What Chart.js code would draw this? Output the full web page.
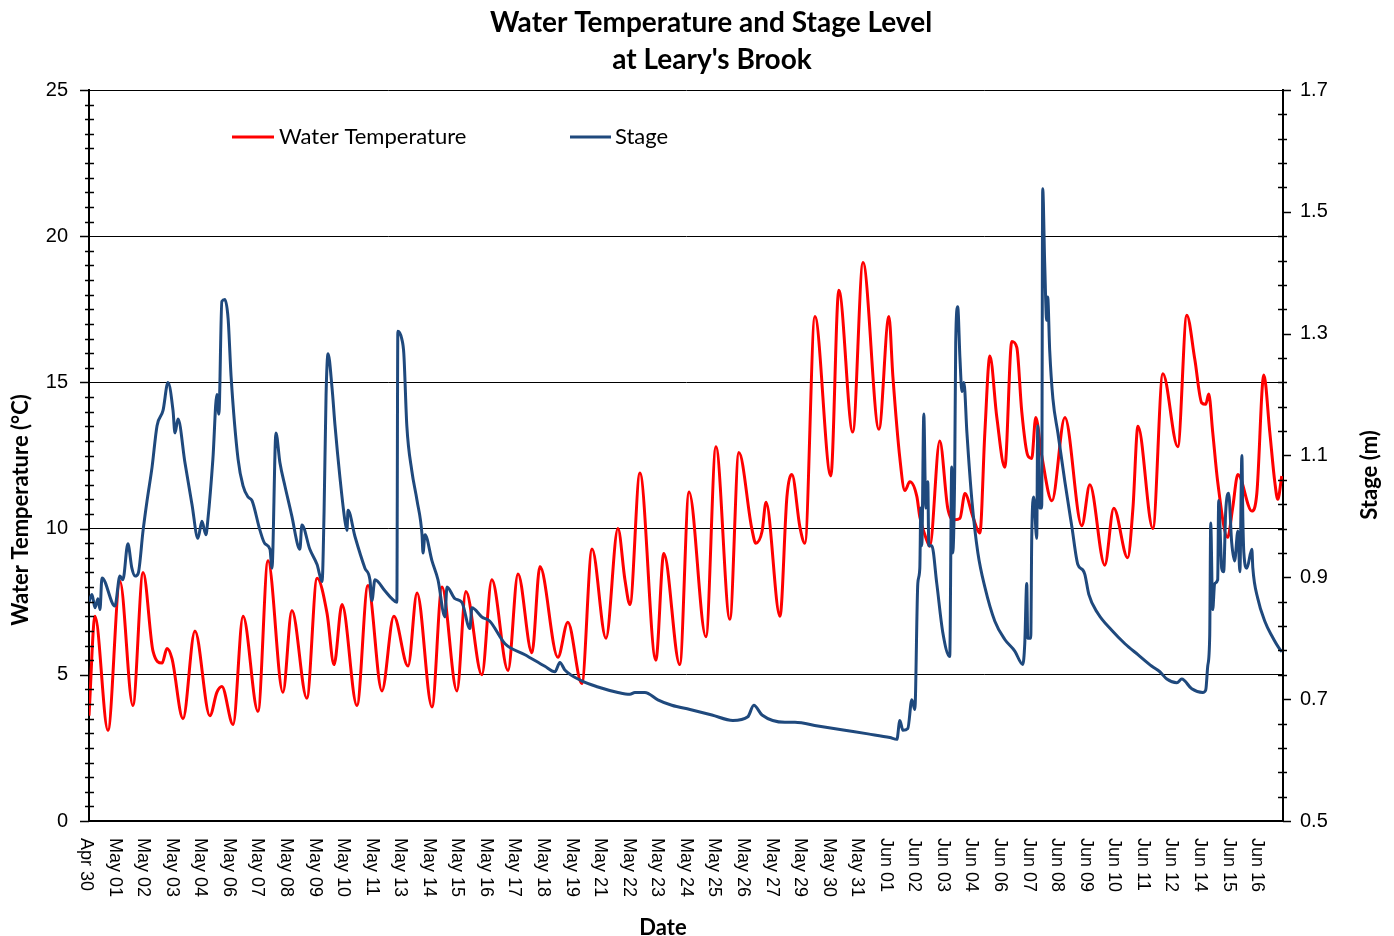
<!DOCTYPE html>
<html><head><meta charset="utf-8">
<script src="https://cdn.jsdelivr.net/npm/chart.js@4"></script>
<style>html,body{margin:0;padding:0;background:#fff;}canvas{display:block;}</style>
</head><body>
<canvas id="c" width="1394" height="936"></canvas>
<script>
// ---------------- data ----------------
const chartTitle = ["Water Temperature and Stage Level", "at Leary's Brook"];
const seriesNames = ["Water Temperature", "Stage"];
const axisTitles = { x: "Date", y: "Water Temperature (\u00B0C)", y2: "Stage (m)" };
const tickLabels = ["Apr 30","May 01","May 02","May 03","May 04","May 06","May 07","May 08","May 09","May 10","May 11","May 13","May 14","May 15","May 16","May 17","May 18","May 19","May 21","May 22","May 23","May 24","May 25","May 26","May 27","May 29","May 30","May 31","Jun 01","Jun 02","Jun 03","Jun 04","Jun 06","Jun 07","Jun 08","Jun 09","Jun 10","Jun 11","Jun 12","Jun 14","Jun 15","Jun 16"];
const labelStepDays = 110 / 96;   // one label every 110 readings of 15 min
const periodDays = 47.9;          // length of the record shown (days from first reading)

// time = days since first reading (Apr 30, ~09:45)
const tempTime = [0.00,0.24,0.76,1.24,1.76,2.17,2.57,2.93,3.13,3.33,3.77,4.25,4.85,5.13,5.33,5.78,6.18,6.78,7.18,7.78,8.14,8.74,9.15,9.55,9.83,10.15,10.75,11.19,11.75,12.23,12.80,13.16,13.76,14.16,14.76,15.12,15.76,16.16,16.81,17.21,17.77,18.09,18.81,19.21,19.77,20.18,20.74,21.22,21.50,21.70,22.10,22.74,23.06,23.70,24.07,24.75,25.15,25.71,26.07,26.59,26.75,27.00,27.16,27.72,28.00,28.20,28.52,28.72,29.12,29.76,30.08,30.64,31.05,31.69,32.09,32.25,32.53,32.73,32.93,33.21,33.33,33.61,33.73,34.13,34.45,34.73,34.94,35.14,35.46,35.74,35.94,36.14,36.42,36.74,37.02,37.22,37.42,37.66,37.82,37.98,38.22,38.63,39.15,39.83,40.15,40.75,41.11,41.67,41.88,42.08,42.68,43.08,43.68,44.04,44.36,44.64,44.80,44.92,45.08,45.28,45.68,45.88,46.09,46.65,46.85,47.13,47.37,47.57,47.69,47.85];
const tempValues = [3.6,7.0,3.1,8.2,3.95,8.5,5.8,5.4,5.9,5.55,3.5,6.5,3.6,4.4,4.6,3.3,7.0,3.75,8.9,4.4,7.2,4.2,8.3,7.1,5.35,7.4,3.95,8.05,4.45,7.0,5.3,7.8,3.9,8.0,4.45,7.85,5.0,8.25,5.15,8.45,5.75,8.7,5.6,6.8,4.7,9.3,6.25,10.0,8.25,7.4,11.9,5.5,9.15,5.35,11.25,6.3,12.8,6.9,12.6,10.0,9.5,9.9,10.9,7.0,11.1,11.85,10.05,9.5,17.25,11.8,18.15,13.3,19.1,13.4,17.25,15.2,12.4,11.3,11.6,11.1,10.4,9.6,9.4,13.0,10.7,10.3,10.35,11.2,10.4,9.85,13.3,15.9,13.8,12.1,16.4,16.2,14.0,12.5,12.4,13.8,12.5,10.95,13.8,10.1,11.5,8.75,10.7,9.0,10.7,13.5,10.0,15.3,12.8,17.3,15.8,14.3,14.25,14.6,13.3,11.6,9.7,10.7,11.85,10.6,11.2,15.25,13.3,11.6,11.0,11.8];

const stageTime = [0.00,0.12,0.24,0.36,0.44,0.52,1.04,1.24,1.36,1.56,1.72,1.85,1.97,2.17,2.33,2.53,2.73,2.97,3.17,3.37,3.45,3.57,3.85,4.13,4.37,4.53,4.69,4.77,4.97,5.13,5.21,5.33,5.45,5.58,5.70,5.98,6.18,6.38,6.54,6.86,7.06,7.26,7.34,7.50,7.66,7.86,8.14,8.38,8.46,8.54,8.86,9.15,9.35,9.43,9.51,9.59,9.75,9.87,10.07,10.27,10.35,10.39,10.67,11.07,11.27,11.35,11.47,11.87,12.15,12.35,12.39,12.55,12.63,12.75,12.95,13.16,13.36,13.40,13.48,13.76,14.00,14.28,14.36,14.68,14.96,15.28,15.36,15.76,16.08,16.69,17.49,18.29,18.69,18.89,19.09,19.77,20.42,21.22,21.70,21.90,22.30,22.82,23.38,24.11,24.99,25.83,26.43,26.67,27.00,27.92,28.32,29.24,30.32,31.25,32.13,32.41,32.53,32.65,32.85,33.01,33.13,33.25,33.33,33.37,33.41,33.49,33.57,33.65,33.69,33.81,34.01,34.25,34.53,34.61,34.65,34.73,34.77,34.85,34.94,35.02,35.10,35.22,35.42,35.66,35.94,36.34,36.74,37.14,37.46,37.54,37.62,37.66,37.78,37.82,37.90,38.02,38.06,38.14,38.22,38.26,38.34,38.42,38.46,38.54,38.67,38.87,39.15,39.43,39.67,39.87,39.95,40.11,40.47,41.03,41.56,42.08,42.64,42.96,43.24,43.64,43.84,44.24,44.68,44.80,44.88,44.96,45.00,45.08,45.16,45.28,45.32,45.40,45.44,45.52,45.60,45.72,45.84,45.96,46.09,46.17,46.25,46.29,46.33,46.45,46.65,46.69,46.89,47.17,47.45,47.77,47.86];
const stageValues = [0.86,0.872,0.85,0.865,0.847,0.899,0.853,0.902,0.896,0.955,0.915,0.902,0.906,0.977,1.026,1.081,1.149,1.174,1.22,1.174,1.137,1.16,1.088,1.02,0.964,0.992,0.97,0.995,1.094,1.2,1.168,1.353,1.356,1.325,1.23,1.094,1.05,1.032,1.026,0.977,0.955,0.946,0.915,1.137,1.088,1.05,1.0,0.952,0.946,0.986,0.946,0.921,0.893,1.007,1.199,1.267,1.211,1.149,1.063,0.992,0.977,1.01,0.967,0.915,0.896,0.862,0.896,0.878,0.865,0.859,1.304,1.291,1.267,1.149,1.075,1.026,0.97,0.94,0.97,0.927,0.896,0.835,0.884,0.865,0.859,0.816,0.85,0.835,0.828,0.791,0.773,0.754,0.745,0.76,0.748,0.73,0.72,0.711,0.708,0.711,0.711,0.699,0.69,0.683,0.674,0.665,0.671,0.69,0.674,0.662,0.662,0.656,0.649,0.643,0.637,0.634,0.665,0.649,0.652,0.699,0.683,0.89,0.915,1.014,0.952,1.168,1.014,1.057,0.952,0.952,0.89,0.81,0.77,1.081,0.94,1.075,1.285,1.344,1.26,1.205,1.22,1.137,1.026,0.94,0.884,0.828,0.798,0.779,0.757,0.791,0.89,0.80,0.80,0.964,1.032,0.964,1.149,1.014,1.014,1.538,1.415,1.322,1.36,1.273,1.193,1.137,1.057,0.983,0.921,0.912,0.905,0.872,0.841,0.813,0.791,0.773,0.754,0.745,0.733,0.727,0.733,0.717,0.711,0.715,0.754,0.804,0.989,0.847,0.89,0.896,1.026,0.952,0.915,0.909,1.007,1.038,0.958,0.927,0.976,0.909,1.1,0.995,0.94,0.915,0.946,0.915,0.865,0.828,0.804,0.782,0.778];

// ---------------- styles ----------------
const RED = '#FF0000';
const BLUE = '#1F497D';
const AX_FONT = '"Liberation Sans", Arial, sans-serif';
const TXT_FONT = 'Lato, "Open Sans", sans-serif';

const decor = {
  id: 'decor',
  afterDraw(chart) {
    const { ctx, chartArea: a, scales } = chart;
    const xs = scales.x, ys = scales.y, ys2 = scales.y2;
    ctx.save();
    ctx.strokeStyle = '#000';
    ctx.lineWidth = 1.5;
    // left axis ticks: major every 5 (outside), minor every 0.5 (crossing)
    for (let i = 0; i <= 50; i++) {
      const py = Math.round(ys.getPixelForValue(i * 0.5)) + 0.5;
      ctx.beginPath();
      if (i % 10 === 0) { ctx.moveTo(a.left - 9, py); ctx.lineTo(a.left, py); }
      else { ctx.moveTo(a.left - 4, py); ctx.lineTo(a.left + 5, py); }
      ctx.stroke();
    }
    // right axis ticks: major every 0.2 (outside), minor every 0.04 (crossing)
    for (let i = 0; i <= 30; i++) {
      const py = Math.round(ys2.getPixelForValue(0.5 + i * 0.04)) + 0.5;
      ctx.beginPath();
      if (i % 5 === 0) { ctx.moveTo(a.right, py); ctx.lineTo(a.right + 8, py); }
      else { ctx.moveTo(a.right - 5, py); ctx.lineTo(a.right + 4, py); }
      ctx.stroke();
    }
    // x tick labels, rotated clockwise
    ctx.fillStyle = '#000';
    ctx.font = '18px ' + AX_FONT;
    ctx.textAlign = 'left';
    ctx.textBaseline = 'middle';
    tickLabels.forEach((lab, k) => {
      const px = xs.getPixelForValue(k * labelStepDays) - 3;
      ctx.save();
      ctx.translate(px, a.bottom + 17);
      ctx.rotate(Math.PI / 2);
      ctx.fillText(lab, 0, 0);
      ctx.restore();
    });
    // title
    ctx.textAlign = 'center';
    ctx.font = 'bold 28px ' + TXT_FONT;
    ctx.fillText(chartTitle[0], 711, 23);
    ctx.fillText(chartTitle[1], 712, 60);
    // axis titles
    ctx.font = 'bold 22px ' + TXT_FONT;
    ctx.fillText(axisTitles.x, 663, 928);
    ctx.save(); ctx.translate(21, 510); ctx.rotate(-Math.PI / 2); ctx.fillText(axisTitles.y, 0, 0); ctx.restore();
    ctx.save(); ctx.translate(1370, 475); ctx.rotate(-Math.PI / 2); ctx.fillText(axisTitles.y2, 0, 0); ctx.restore();
    // legend
    ctx.lineWidth = 3;
    ctx.font = '22px ' + TXT_FONT;
    ctx.textAlign = 'left';
    const items = [[seriesNames[0], RED, 232, 274, 279], [seriesNames[1], BLUE, 570, 611, 615]];
    items.forEach(([name, col, x1, x2, tx]) => {
      ctx.strokeStyle = col;
      ctx.beginPath(); ctx.moveTo(x1, 137); ctx.lineTo(x2, 137); ctx.stroke();
      ctx.fillText(name, tx, 137);
    });
    ctx.restore();
  }
};

new Chart(document.getElementById('c'), {
  type: 'line',
  data: {
    datasets: [
      {
        label: seriesNames[0],
        data: tempTime.map((t, i) => ({ x: t, y: tempValues[i] })),
        borderColor: RED, backgroundColor: RED, borderWidth: 3,
        pointRadius: 0, cubicInterpolationMode: 'monotone',
        yAxisID: 'y', order: 1
      },
      {
        label: seriesNames[1],
        data: stageTime.map((t, i) => ({ x: t, y: stageValues[i] })),
        borderColor: BLUE, backgroundColor: BLUE, borderWidth: 3,
        pointRadius: 0, cubicInterpolationMode: 'monotone',
        yAxisID: 'y2', order: 0
      }
    ]
  },
  options: {
    responsive: false,
    animation: false,
    devicePixelRatio: 1,
    layout: { padding: { top: 90, left: 0, right: 0, bottom: 0 } },
    plugins: { legend: { display: false }, title: { display: false }, tooltip: { enabled: false } },
    scales: {
      x: {
        type: 'linear', min: 0, max: periodDays,
        grid: { display: false },
        border: { display: true, color: '#000', width: 2 },
        ticks: { display: false },
        afterFit: s => { s.height = 115; }
      },
      y: {
        position: 'left', min: 0, max: 25,
        ticks: { stepSize: 5, color: '#000', font: { family: AX_FONT, size: 20 }, padding: 21 },
        grid: { color: '#000', lineWidth: 1, drawTicks: false },
        border: { display: true, color: '#000', width: 2 },
        afterFit: s => { s.width = 89; }
      },
      y2: {
        position: 'right', min: 0.5, max: 1.7,
        ticks: { stepSize: 0.2, color: '#000', font: { family: AX_FONT, size: 20 }, padding: 17,
                 callback: v => Number(v).toFixed(1) },
        grid: { display: false, drawTicks: false },
        border: { display: true, color: '#000', width: 2 },
        afterFit: s => { s.width = 111; }
      }
    }
  },
  plugins: [decor]
});
</script>
</body></html>
